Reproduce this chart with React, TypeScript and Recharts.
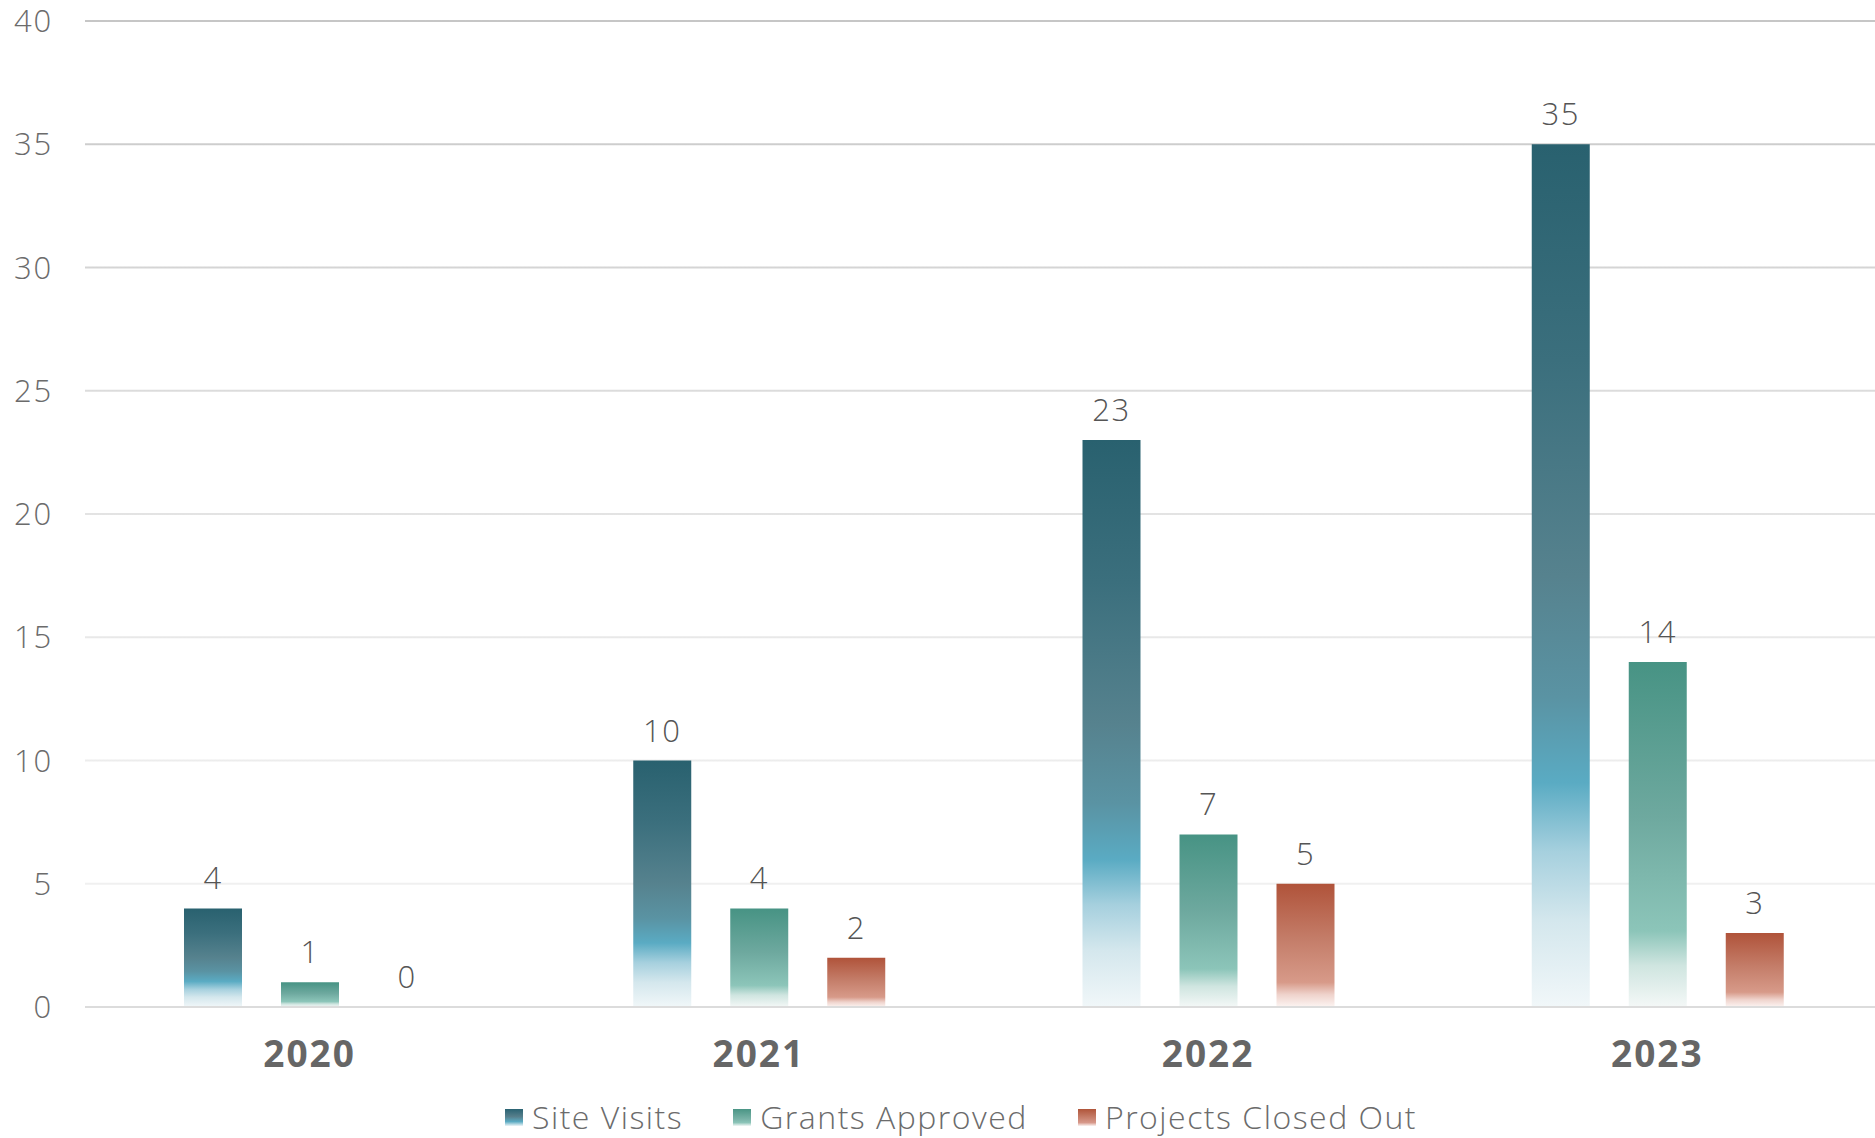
import React from 'react';
import { BarChart, Bar, XAxis, YAxis, CartesianGrid, Legend, LabelList } from 'recharts';

const years = ['2020', '2021', '2022', '2023'];
const siteVisits = [4, 10, 23, 35];
const grantsApproved = [1, 4, 7, 14];
const projectsClosedOut = [0, 2, 5, 3];
const yTicks = [0, 5, 10, 15, 20, 25, 30, 35, 40];

const data = years.map((year, i) => ({
  year,
  'Site Visits': siteVisits[i],
  'Grants Approved': grantsApproved[i],
  'Projects Closed Out': projectsClosedOut[i],
}));

const FONT = '"Open Sans", Lato, sans-serif';

const series = [
  { key: 'Site Visits', grad: 'gradVisits', css: 'linear-gradient(#2a6373, #577f8c 45%, #5aaac2 74%, #eef5f7)' },
  { key: 'Grants Approved', grad: 'gradGrants', css: 'linear-gradient(#4a9585, #7ab3a8 60%, #8cc4b8 80%, #f3f7f6)' },
  { key: 'Projects Closed Out', grad: 'gradProjects', css: 'linear-gradient(#b0553a, #c98370 55%, #d7988a 80%, #fbf3f1)' },
];

function Gradients() {
  return (
    <svg width={0} height={0} style={{ position: 'absolute' }}>
      <defs>
        <linearGradient id="gradVisits" x1="0" y1="0" x2="0" y2="1">
          <stop offset="0" stopColor="#29616f" />
          <stop offset="0.25" stopColor="#3b6f7d" />
          <stop offset="0.5" stopColor="#56828e" />
          <stop offset="0.64" stopColor="#5a93a3" />
          <stop offset="0.74" stopColor="#5aabc3" />
          <stop offset="0.82" stopColor="#a6d0de" />
          <stop offset="0.9" stopColor="#d4e7ed" />
          <stop offset="1" stopColor="#f1f7f9" />
        </linearGradient>
        <linearGradient id="gradGrants" x1="0" y1="0" x2="0" y2="1">
          <stop offset="0" stopColor="#479384" />
          <stop offset="0.45" stopColor="#6ea99f" />
          <stop offset="0.78" stopColor="#8cc5b9" />
          <stop offset="0.88" stopColor="#cfe5e0" />
          <stop offset="1" stopColor="#f4f8f7" />
        </linearGradient>
        <linearGradient id="gradProjects" x1="0" y1="0" x2="0" y2="1">
          <stop offset="0" stopColor="#b0533a" />
          <stop offset="0.45" stopColor="#c47d69" />
          <stop offset="0.8" stopColor="#d79a89" />
          <stop offset="0.9" stopColor="#efd3cc" />
          <stop offset="1" stopColor="#fcf4f2" />
        </linearGradient>
        <linearGradient id="gridGrad" gradientUnits="userSpaceOnUse" x1="0" y1="20" x2="0" y2="1007">
          <stop offset="0" stopColor="#c6c6c6" />
          <stop offset="0.55" stopColor="#e6e6e6" />
          <stop offset="1" stopColor="#f4f4f4" />
        </linearGradient>
      </defs>
    </svg>
  );
}

function LegendContent() {
  return (
    <div
      style={{
        display: 'flex',
        justifyContent: 'center',
        alignItems: 'center',
        height: 50,
        paddingLeft: 40,
        fontFamily: FONT,
        fontWeight: 300,
        fontSize: 32,
        letterSpacing: 1.5,
        color: '#6b6b6b',
      }}
    >
      {series.map((s, i) => (
        <div key={s.key} style={{ display: 'flex', alignItems: 'center', marginRight: i < series.length - 1 ? 50 : 0 }}>
          <span style={{ display: 'inline-block', width: 18, height: 17, background: s.css, marginRight: 9 }} />
          <span style={{ lineHeight: '50px', whiteSpace: 'nowrap' }}>{s.key}</span>
        </div>
      ))}
    </div>
  );
}

// draws the value above each bar, zero included
function ValueLabel(props: any) {
  const { x, y, width, value } = props;
  if (value == null) return null;
  return (
    <text
      x={Number(x) + Number(width) / 2}
      y={Number(y) - 19}
      textAnchor="middle"
      style={{ fontSize: 31, fontWeight: 300, fill: '#555555', fontFamily: FONT, letterSpacing: 1.5 }}
    >
      {value}
    </text>
  );
}

// a zero value still needs a (hair-thin) bar so its label gets drawn
const zeroBarSize = (value: any) => (value === 0 ? 0.01 : 0);

export default function App() {
  return (
    <div style={{ position: 'fixed', left: 0, top: 0, width: 1875, height: 1138, overflow: 'hidden', background: '#fff' }}>
      <Gradients />
      <BarChart
        width={1882}
        height={1160}
        data={data}
        margin={{ top: 21, right: 0, bottom: 18, left: 0 }}
        barSize={58}
        barGap={39}
      >
        <CartesianGrid vertical={false} stroke="url(#gridGrad)" strokeWidth={2} />
        <XAxis
          dataKey="year"
          height={85}
          axisLine={{ stroke: '#dcdcdc', strokeWidth: 2 }}
          tickLine={false}
          tickSize={0}
          tickMargin={34}
          tick={{ fontSize: 37, fontWeight: 700, fill: '#666666', fontFamily: FONT, letterSpacing: 2 }}
        />
        <YAxis
          width={85}
          domain={[0, 40]}
          ticks={yTicks}
          axisLine={false}
          tickLine={false}
          tickSize={0}
          tickMargin={32}
          tick={{ fontSize: 31, fontWeight: 300, fill: '#6b6b6b', fontFamily: FONT, letterSpacing: 1.8 }}
        />
        <Legend verticalAlign="bottom" content={<LegendContent />} />
        {series.map((s) => (
          <Bar
            key={s.key}
            dataKey={s.key}
            fill={`url(#${s.grad})`}
            minPointSize={zeroBarSize}
            isAnimationActive={false}
          >
            <LabelList dataKey={s.key} content={<ValueLabel />} />
          </Bar>
        ))}
      </BarChart>
    </div>
  );
}
